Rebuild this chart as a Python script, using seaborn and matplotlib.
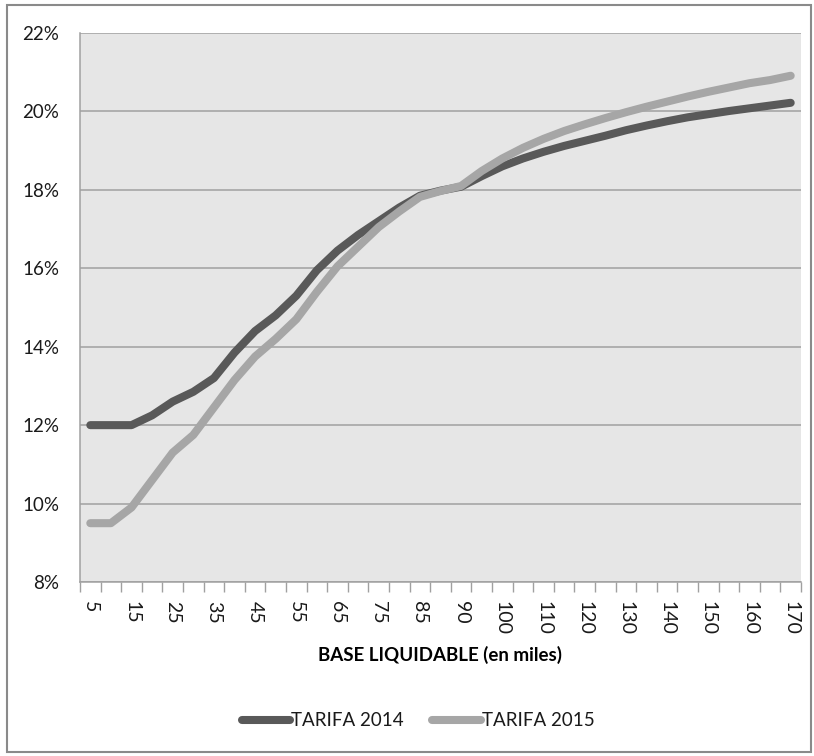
import numpy as np
import pandas as pd
import matplotlib
matplotlib.use("Agg")
import matplotlib.pyplot as plt
from matplotlib.lines import Line2D
from matplotlib.patches import Rectangle
from matplotlib.ticker import FixedLocator, FuncFormatter
import seaborn as sns

# Base liquidable (miles de euros) and average tax rate (%) for each tariff
base_liquidable = [5, 10, 15, 20, 25, 30, 35, 40, 45, 50, 55, 60, 65, 70, 75, 80, 85,
                   87.5, 90, 95, 100, 105, 110, 115, 120, 125, 130, 135, 140, 145,
                   150, 155, 160, 165, 170]
tarifa_2014 = [12.0, 12.0, 12.0, 12.25, 12.6, 12.85, 13.2, 13.85, 14.4, 14.8, 15.3,
               15.95, 16.45, 16.85, 17.2, 17.55, 17.85, 17.98, 18.08, 18.35, 18.6,
               18.8, 18.97, 19.12, 19.25, 19.38, 19.52, 19.64, 19.75, 19.85, 19.93,
               20.01, 20.08, 20.15, 20.22]
tarifa_2015 = [9.5, 9.5, 9.9, 10.6, 11.3, 11.75, 12.45, 13.15, 13.75, 14.2, 14.7,
               15.4, 16.05, 16.55, 17.05, 17.45, 17.82, 17.97, 18.1, 18.48, 18.8,
               19.07, 19.3, 19.5, 19.67, 19.83, 19.98, 20.12, 20.25, 20.38, 20.5,
               20.61, 20.72, 20.8, 20.91]
series_names = ["TARIFA 2014", "TARIFA 2015"]
series_colors = ["#595959", "#a6a6a6"]
y_ticks = [8, 10, 12, 14, 16, 18, 20, 22]

n = len(base_liquidable)
df = pd.DataFrame({
    "pos": list(range(n)) * 2,
    "tipo": tarifa_2014 + tarifa_2015,
    "serie": [series_names[0]] * n + [series_names[1]] * n,
})

sns.set_theme(style="white")
plt.rcParams["font.family"] = ["Lato", "DejaVu Sans"]

W, H = 814, 756
fig = plt.figure(figsize=(W / 100, H / 100), dpi=100)
fig.patch.set_facecolor("white")
ax = fig.add_axes([80 / W, 1 - 582 / H, (801 - 80) / W, (582 - 33) / H])
ax.set_facecolor("#e6e6e6")

sns.lineplot(data=df, x="pos", y="tipo", hue="serie", palette=series_colors,
             linewidth=5.8, ax=ax, legend=False, zorder=3)
for ln in ax.lines:
    ln.set_solid_capstyle("round")
    ln.set_solid_joinstyle("round")

ax.set_xlim(-0.5, n - 0.5)
ax.set_ylim(y_ticks[0], y_ticks[-1])

# Y axis: percent labels, horizontal gridlines
ax.set_yticks(y_ticks)
ax.yaxis.set_major_formatter(FuncFormatter(lambda v, p: f"{v:.0f}%"))
ax.grid(axis="y", color="#a0a0a0", linewidth=1.1, zorder=1)
ax.set_axisbelow(True)
ax.tick_params(axis="y", which="major", length=8, width=1, color="#a0a0a0",
               labelsize=13.5, labelcolor="#1a1a1a", pad=7, direction="out")

# X axis: labels on every other category, tick marks between categories
label_pos = list(range(0, n, 2))
ax.xaxis.set_major_locator(FixedLocator(label_pos))
ax.set_xticklabels([f"{base_liquidable[i]:g}" for i in label_pos])
ax.xaxis.set_minor_locator(FixedLocator(np.arange(-0.5, n, 1.0)))
ax.tick_params(axis="x", which="major", length=0, labelsize=14,
               labelcolor="#1a1a1a", pad=14, labelrotation=-90)
ax.tick_params(axis="x", which="minor", length=7, width=1, color="#a0a0a0",
               direction="out", bottom=True)
for lbl in ax.get_xticklabels():
    lbl.set_va("top")
    lbl.set_ha("center")

for side in ["top", "right"]:
    ax.spines[side].set_visible(False)
for side in ["left", "bottom"]:
    ax.spines[side].set_color("#a0a0a0")
    ax.spines[side].set_linewidth(1.1)

ax.set_ylabel("")
ax.set_xlabel("BASE LIQUIDABLE (en miles)", fontsize=13.5, fontweight="bold",
              color="#000000")
ax.xaxis.set_label_coords(0.5, (582 - 655) / (582 - 33))
ax.xaxis.label.set_va("center")

# Legend below the axis title
handles = [Line2D([0], [0], color=c, linewidth=5.8, solid_capstyle="round")
           for c in series_colors]
fig.legend(handles, series_names, loc="center", bbox_to_anchor=(418 / W, 1 - 721 / H),
           ncol=2, frameon=False, fontsize=13.5, handlelength=2.6, handletextpad=0.05,
           columnspacing=1.5, labelcolor="#1a1a1a")

# Chart frame
fig.add_artist(Rectangle((7 / W, 1 - 752 / H), (811 - 7) / W, (752 - 5) / H,
                         transform=fig.transFigure, fill=False,
                         edgecolor="#8a8a8a", linewidth=1.5))

fig.savefig("out.png", dpi=100)
